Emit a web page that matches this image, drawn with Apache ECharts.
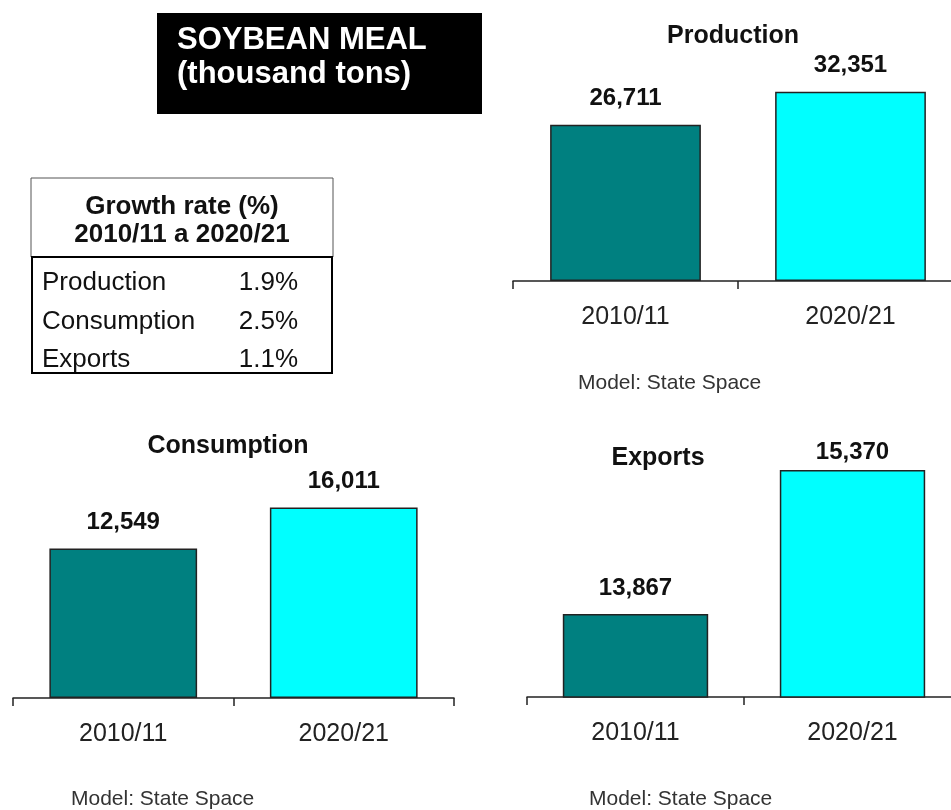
<!DOCTYPE html>
<html>
<head>
<meta charset="utf-8">
<script src="https://cdn.jsdelivr.net/npm/echarts@6/dist/echarts.min.js"></script>
<style>
html, body { margin: 0; padding: 0; background: #fff; }
#chart { width: 951px; height: 810px; }
</style>
</head>
<body>
<div id="chart"></div>
<script>
// data
var years = ['2010/11', '2020/21'];
var production = [26711, 32351];
var consumption = [12549, 16011];
var exportsVals = [13867, 15370];
var growthNames = ['Production', 'Consumption', 'Exports'];
var growthRates = ['1.9%', '2.5%', '1.1%'];
var barColors = ['#008080', '#00FFFF'];

var FONT = 'Arial, "Liberation Sans", sans-serif';

function fmt(v) {
	return v.toLocaleString('en-US');
}

function barData(vals) {
	return vals.map(function (v, i) {
		return { value: v, itemStyle: { color: barColors[i] } };
	});
}

function xAx(idx) {
	return {
		type: 'category',
		gridIndex: idx,
		data: years,
		axisLine: { lineStyle: { color: '#222', width: 1.5 } },
		axisTick: { show: true, length: 8, lineStyle: { color: '#222', width: 1.5 } },
		axisLabel: { color: '#222', fontSize: 25, fontFamily: FONT, margin: 24 }
	};
}

function yAx(idx, min, max) {
	return {
		type: 'value', gridIndex: idx, min: min, max: max,
		show: false, splitLine: { show: false }
	};
}

function barSeries(idx, vals) {
	return {
		type: 'bar',
		xAxisIndex: idx,
		yAxisIndex: idx,
		barWidth: '67%',
		data: barData(vals),
		itemStyle: { borderColor: '#222', borderWidth: 1.5 },
		label: {
			show: true, position: 'top', distance: 14,
			fontSize: 24, fontWeight: 'bold', color: '#111', fontFamily: FONT,
			formatter: function (p) { return fmt(p.value); }
		}
	};
}

function txt(x, y, s, size, bold, align, color) {
	return {
		type: 'text', x: x, y: y,
		style: {
			text: s, fontSize: size, fontWeight: bold ? 'bold' : 'normal',
			fontFamily: FONT, fill: color || '#111',
			textAlign: align || 'center', textVerticalAlign: 'middle'
		}
	};
}

var myChart = echarts.init(document.getElementById('chart'));

var graphics = [
	// title box
	{ type: 'rect', shape: { x: 157, y: 13, width: 325, height: 101 }, style: { fill: '#000' } },
	txt(177, 40, 'SOYBEAN MEAL', 31, true, 'left', '#fff'),
	txt(177, 74, '(thousand tons)', 31, true, 'left', '#fff'),
	// growth table
	{ type: 'rect', shape: { x: 31, y: 178, width: 302, height: 79 }, style: { fill: '#fff', stroke: '#555', lineWidth: 1 } },
	{ type: 'rect', shape: { x: 32, y: 257, width: 300, height: 116 }, style: { fill: 'none', stroke: '#000', lineWidth: 2 } },
	txt(182, 207, 'Growth rate (%)', 26, true),
	txt(182, 235, '2010/11 a 2020/21', 26, true),
	// panel titles
	txt(733, 36, 'Production', 25, true),
	txt(228, 446, 'Consumption', 25, true),
	txt(658, 458, 'Exports', 25, true),
	// model notes
	txt(578, 383, 'Model: State Space', 21, false, 'left', '#333'),
	txt(71, 799, 'Model: State Space', 21, false, 'left', '#333'),
	txt(589, 799, 'Model: State Space', 21, false, 'left', '#333')
];
var rowY = [283, 322, 360];
growthNames.forEach(function (n, i) {
	graphics.push(txt(42, rowY[i], n, 26, false, 'left'));
	graphics.push(txt(298, rowY[i], growthRates[i], 26, false, 'right'));
});

var expSeries = barSeries(2, exportsVals);
expSeries.data[1].label = { distance: 6 };

myChart.setOption({
	backgroundColor: '#fff',
	animation: false,
	grid: [
		{ left: 513, top: 70.5, width: 450, height: 210.5, outerBoundsMode: 'none', containLabel: false },
		{ left: 13, top: 483.7, width: 441, height: 214.3, outerBoundsMode: 'none', containLabel: false },
		{ left: 527, top: 457.5, width: 434, height: 239.5, outerBoundsMode: 'none', containLabel: false }
	],
	xAxis: [xAx(0), xAx(1), xAx(2)],
	yAxis: [yAx(0, 0, 36000), yAx(1, 0, 18000), yAx(2, 13000, 15500)],
	series: [
		barSeries(0, production),
		barSeries(1, consumption),
		expSeries
	],
	graphic: graphics
});
</script>
</body>
</html>
